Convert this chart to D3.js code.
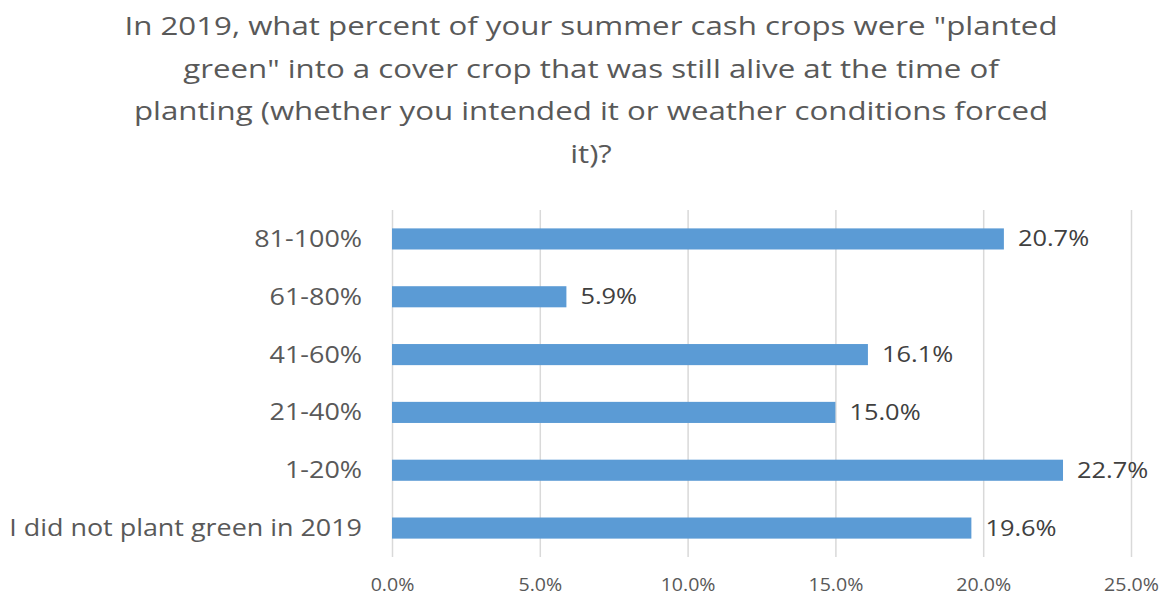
<!DOCTYPE html>
<html><head><meta charset="utf-8">
<script src="https://cdn.jsdelivr.net/npm/d3@7"></script>
<style>body{margin:0;background:#fff;} text{font-family:"Open Sans",sans-serif;}</style>
</head><body><svg id="c" width="1163" height="597"></svg>
<script>
const categories = ["81-100%","61-80%","41-60%","21-40%","1-20%","I did not plant green in 2019"];
const values = [20.7,5.9,16.1,15.0,22.7,19.6];
const ticks = [0,5,10,15,20,25];
const titleLines = ["In 2019, what percent of your summer cash crops were \"planted","green\" into a cover crop that was still alive at the time of","planting (whether you intended it or weather conditions forced","it)?"];

const svg = d3.select("#c");
const x = d3.scaleLinear().domain([0,25]).range([392,1131]);
const y = d3.scaleBand().domain(categories).range([210,557]).paddingInner(0.635).paddingOuter(0.318);

// title
svg.append("g").selectAll("text").data(titleLines).join("text")
  .attr("transform",(d,i)=>`translate(591,${35+i*42.5}) scale(1.25,1)`)
  .attr("text-anchor","middle")
  .attr("font-size",25).attr("fill","#595959").text(d=>d);

// grid + x axis
const xa = svg.append("g").attr("transform","translate(0,557)")
  .call(d3.axisBottom(x).tickValues(ticks).tickFormat(d=>d.toFixed(1)+"%").tickSize(-347));
xa.select(".domain").remove();
xa.selectAll("line").attr("stroke","#d9d9d9").attr("stroke-width",1.5);
xa.selectAll("text").attr("y",null).attr("dy",null)
  .attr("transform","translate(0,34) scale(1.12,1)")
  .attr("font-size",17.5).attr("fill","#595959").attr("font-family","Open Sans, sans-serif");

// bars
svg.append("g").selectAll("rect").data(values).join("rect")
  .attr("x",x(0)).attr("y",(d,i)=>y(categories[i])).attr("width",d=>x(d)-x(0)).attr("height",y.bandwidth())
  .attr("fill","#5b9bd5");

// value labels
svg.append("g").selectAll("text").data(values).join("text")
  .attr("transform",(d,i)=>`translate(${x(d)+14},${y(categories[i])+y.bandwidth()/2+7.5}) scale(1.21,1)`)
  .attr("font-size",21).attr("fill","#404040").text(d=>d.toFixed(1)+"%");

// category labels
svg.append("g").selectAll("text").data(categories).join("text")
  .attr("transform",d=>`translate(362,${y(d)+y.bandwidth()/2+8}) scale(1.17,1)`)
  .attr("text-anchor","end")
  .attr("font-size",23).attr("fill","#595959").text(d=>d);
</script></body></html>
